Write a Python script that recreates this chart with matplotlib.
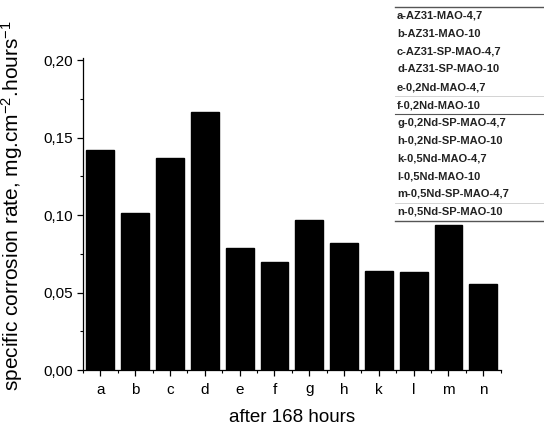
import matplotlib
matplotlib.use("Agg")
import matplotlib.pyplot as plt
from matplotlib.ticker import MultipleLocator, FixedLocator
from matplotlib.lines import Line2D

categories = ["a", "b", "c", "d", "e", "f", "g", "h", "k", "l", "m", "n"]
rates = [0.1424, 0.1015, 0.137, 0.1665, 0.0785, 0.0697, 0.0966, 0.0821,
         0.0639, 0.0630, 0.0934, 0.0555]
legend_labels = [
    "a-AZ31-MAO-4,7",
    "b-AZ31-MAO-10",
    "c-AZ31-SP-MAO-4,7",
    "d-AZ31-SP-MAO-10",
    "e-0,2Nd-MAO-4,7",
    "f-0,2Nd-MAO-10",
    "g-0,2Nd-SP-MAO-4,7",
    "h-0,2Nd-SP-MAO-10",
    "k-0,5Nd-MAO-4,7",
    "l-0,5Nd-MAO-10",
    "m-0,5Nd-SP-MAO-4,7",
    "n-0,5Nd-SP-MAO-10",
]

plt.rcParams["font.family"] = ["Liberation Sans", "DejaVu Sans"]
plt.rcParams["mathtext.default"] = "regular"

W, H = 544, 426
fig = plt.figure(figsize=(W / 100, H / 100), dpi=100)
ax = fig.add_axes([83 / W, 1 - 370 / H, (500.7 - 83) / W, (370 - 58) / H])

x = list(range(len(categories)))
ax.bar(x, rates, width=0.8, color="black", edgecolor="black")

ax.set_xlim(-0.5, len(categories) - 0.5)
ax.set_ylim(0, 0.2015)
ax.spines["top"].set_visible(False)
ax.spines["right"].set_visible(False)
for s in ("left", "bottom"):
    ax.spines[s].set_linewidth(0.9)

ax.set_xticks(x)
ax.set_xticklabels(categories)
ax.xaxis.set_minor_locator(FixedLocator([i - 0.5 for i in range(len(categories) + 1)]))
ax.yaxis.set_major_locator(MultipleLocator(0.05))
ax.yaxis.set_minor_locator(MultipleLocator(0.025))
ax.yaxis.set_major_formatter(lambda v, p: f"{v:.2f}".replace(".", ","))

ax.tick_params(which="major", direction="out", length=4, width=0.9, labelsize=11, pad=3)
ax.tick_params(axis="x", which="major", pad=5)
ax.tick_params(which="minor", direction="out", length=2.5, width=0.8)

ax.set_xlabel("after 168 hours", fontsize=13.5)
ax.xaxis.set_label_coords(0.5, -39 / 312)
ax.set_ylabel("specific corrosion rate, mg.cm$^{-2}$.hours$^{-1}$", fontsize=15)
ax.yaxis.set_label_coords(-58 / 417.7, 0.5 + 8 / 312)

# table-like legend in the upper right
row0, step = 16, 17.8
for i, lab in enumerate(legend_labels):
    fig.text(397 / W, 1 - (row0 + i * step) / H, lab, fontsize=8, fontweight="bold",
             va="center", ha="left", color="#222222")


def hline(y, color, lw):
    fig.add_artist(Line2D([395 / W, 1.0], [1 - y / H, 1 - y / H], color=color,
                          linewidth=lw, transform=fig.transFigure))


hline(7, "#555555", 1.0)
hline(row0 + 5.5 * step, "#555555", 0.8)
hline(row0 + 11.5 * step, "#555555", 1.0)
hline(row0 + 4.5 * step, "#cccccc", 0.6)
hline(row0 + 10.5 * step, "#cccccc", 0.6)

fig.savefig("out.png", dpi=100)
